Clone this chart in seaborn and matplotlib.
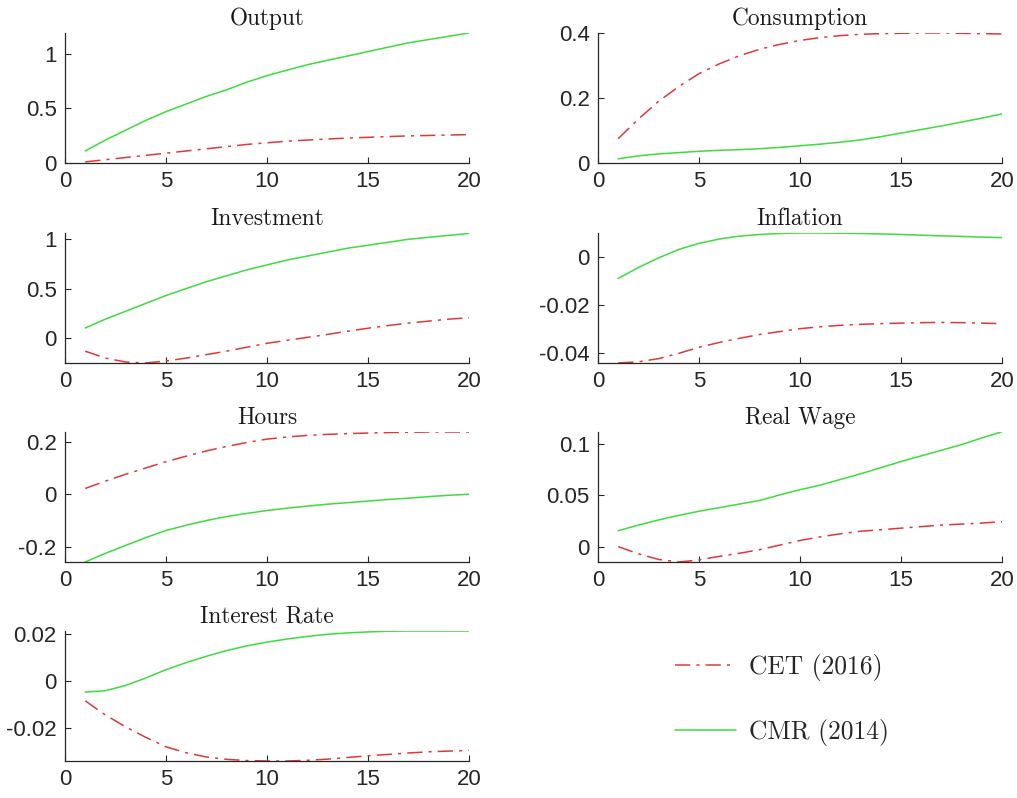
import numpy as np
import pandas as pd
import matplotlib
matplotlib.use("Agg")
import matplotlib.pyplot as plt
import seaborn as sns

periods = list(range(1, 21))

titles = ["Output", "Consumption", "Investment", "Inflation",
          "Hours", "Real Wage", "Interest Rate"]

cet_output = [0.01, 0.03, 0.05, 0.07, 0.09, 0.11, 0.13, 0.15, 0.17, 0.185,
              0.20, 0.21, 0.22, 0.228, 0.235, 0.242, 0.248, 0.252, 0.256, 0.26]
cmr_output = [0.11, 0.21, 0.30, 0.39, 0.47, 0.54, 0.61, 0.67, 0.74, 0.80,
              0.85, 0.90, 0.94, 0.98, 1.02, 1.06, 1.10, 1.13, 1.16, 1.19]

cet_consumption = [0.075, 0.135, 0.19, 0.235, 0.275, 0.305, 0.33, 0.35, 0.365, 0.377,
                   0.386, 0.392, 0.396, 0.398, 0.399, 0.40, 0.40, 0.399, 0.398, 0.397]
cmr_consumption = [0.013, 0.022, 0.028, 0.032, 0.036, 0.039, 0.041, 0.044, 0.048, 0.053,
                   0.058, 0.064, 0.071, 0.081, 0.092, 0.103, 0.114, 0.126, 0.138, 0.151]

cet_investment = [-0.135, -0.205, -0.245, -0.255, -0.235, -0.205, -0.17, -0.135, -0.095, -0.055,
                  -0.025, 0.005, 0.035, 0.068, 0.098, 0.125, 0.15, 0.17, 0.19, 0.204]
cmr_investment = [0.10, 0.19, 0.27, 0.35, 0.43, 0.50, 0.57, 0.63, 0.69, 0.74,
                  0.79, 0.83, 0.87, 0.91, 0.94, 0.97, 1.00, 1.02, 1.04, 1.06]

cet_inflation = [-0.044, -0.0435, -0.0422, -0.040, -0.0375, -0.0355, -0.0338, -0.0322, -0.031, -0.0298,
                 -0.029, -0.0284, -0.028, -0.0277, -0.0275, -0.0273, -0.0272, -0.0273, -0.0275, -0.0277]
cmr_inflation = [-0.009, -0.0045, -0.0005, 0.003, 0.0055, 0.0073, 0.0085, 0.0092, 0.0096, 0.0098,
                 0.0098, 0.0097, 0.0096, 0.0094, 0.0092, 0.0089, 0.0086, 0.0084, 0.0081, 0.0079]

cet_hours = [0.022, 0.05, 0.076, 0.10, 0.124, 0.145, 0.165, 0.182, 0.197, 0.21,
             0.218, 0.224, 0.228, 0.231, 0.233, 0.235, 0.236, 0.237, 0.237, 0.237]
cmr_hours = [-0.258, -0.225, -0.195, -0.165, -0.138, -0.118, -0.10, -0.085, -0.073, -0.062,
             -0.053, -0.045, -0.038, -0.032, -0.026, -0.02, -0.015, -0.009, -0.004, 0.0]

cet_wage = [0.0, -0.007, -0.0125, -0.015, -0.013, -0.0095, -0.0065, -0.003, 0.0015, 0.006,
            0.0095, 0.0125, 0.015, 0.0165, 0.018, 0.0195, 0.021, 0.022, 0.023, 0.0243]
cmr_wage = [0.0155, 0.021, 0.026, 0.0305, 0.0345, 0.038, 0.0415, 0.045, 0.0505, 0.0555,
            0.060, 0.0655, 0.071, 0.077, 0.083, 0.0885, 0.094, 0.0995, 0.106, 0.112]

cet_rate = [-0.0085, -0.0145, -0.0195, -0.024, -0.028, -0.0305, -0.0323, -0.0333, -0.0338, -0.034,
            -0.034, -0.0337, -0.0332, -0.0325, -0.0318, -0.0312, -0.0306, -0.0301, -0.0298, -0.0295]
cmr_rate = [-0.0048, -0.0042, -0.002, 0.0012, 0.0047, 0.0077, 0.0104, 0.0128, 0.0148, 0.0164,
            0.0177, 0.0188, 0.0197, 0.0203, 0.0207, 0.021, 0.0211, 0.0211, 0.0211, 0.0211]

series_names = ["CET (2016)", "CMR (2014)"]

ylims = [(0, 1.19), (0, 0.40), (-0.255, 1.064), (-0.044, 0.0098),
         (-0.258, 0.237), (-0.015, 0.1118), (-0.034, 0.0211)]
yticks = [[0, 0.5, 1], [0, 0.2, 0.4], [0, 0.5, 1], [-0.04, -0.02, 0],
          [-0.2, 0, 0.2], [0, 0.05, 0.1], [-0.02, 0, 0.02]]

cet_all = [cet_output, cet_consumption, cet_investment, cet_inflation, cet_hours, cet_wage, cet_rate]
cmr_all = [cmr_output, cmr_consumption, cmr_investment, cmr_inflation, cmr_hours, cmr_wage, cmr_rate]

sns.set_style("ticks")
plt.rcParams["font.family"] = ["Liberation Sans", "DejaVu Sans"]
plt.rcParams["axes.unicode_minus"] = False
plt.rcParams["xtick.direction"] = "in"
plt.rcParams["ytick.direction"] = "in"

RED = "#e0383a"
GREEN = "#3ddc3d"
TXT = "#262626"

W, H = 1017, 798
fig = plt.figure(figsize=(W / 100, H / 100), dpi=100)

lefts = [65, 598]
tops = [33, 233, 432, 631]
aw, ah = 404, 130

def fmt(v):
    return "%g" % v

for i, title in enumerate(titles):
    r, c = divmod(i, 2)
    ax = fig.add_axes([lefts[c] / W, 1 - (tops[r] + ah) / H, aw / W, ah / H])
    df = pd.DataFrame({"t": periods * 2,
                       "v": cet_all[i] + cmr_all[i],
                       "model": [series_names[0]] * 20 + [series_names[1]] * 20})
    sns.lineplot(data=df[df.model == series_names[0]], x="t", y="v", ax=ax,
                 color=RED, lw=1.1, legend=False)
    ax.lines[-1].set_dashes((10, 4, 2, 4))
    sns.lineplot(data=df[df.model == series_names[1]], x="t", y="v", ax=ax,
                 color=GREEN, lw=1.1, legend=False)
    ax.set_xlim(0, 20)
    ax.set_ylim(*ylims[i])
    ax.set_xticks([0, 5, 10, 15, 20])
    ax.set_yticks(yticks[i])
    ax.set_yticklabels([fmt(v) for v in yticks[i]])
    ax.set_xlabel("")
    ax.set_ylabel("")
    ax.tick_params(labelsize=16, colors=TXT, length=4, width=0.8, pad=6)
    for s in ["left", "bottom"]:
        ax.spines[s].set_color(TXT)
        ax.spines[s].set_linewidth(0.9)
    sns.despine(ax=ax)
    ax.set_title(title, family="cmr10", fontsize=16.8, color="#1a1a1a", pad=6)

# legend panel
lax = fig.add_axes([lefts[1] / W, 1 - (tops[3] + ah) / H, aw / W, ah / H])
lax.axis("off")
h1, = lax.plot([], [], color=RED, lw=1.1, dashes=(10, 4, 2, 4))
h2, = lax.plot([], [], color=GREEN, lw=1.1)
lax.legend([h1, h2], series_names, loc="center", bbox_to_anchor=(0.455, 0.47),
           frameon=False, prop={"family": "cmr10", "size": 18.4},
           handlelength=2.4, labelspacing=1.5, handletextpad=0.5)

fig.savefig("out.png", dpi=100)
